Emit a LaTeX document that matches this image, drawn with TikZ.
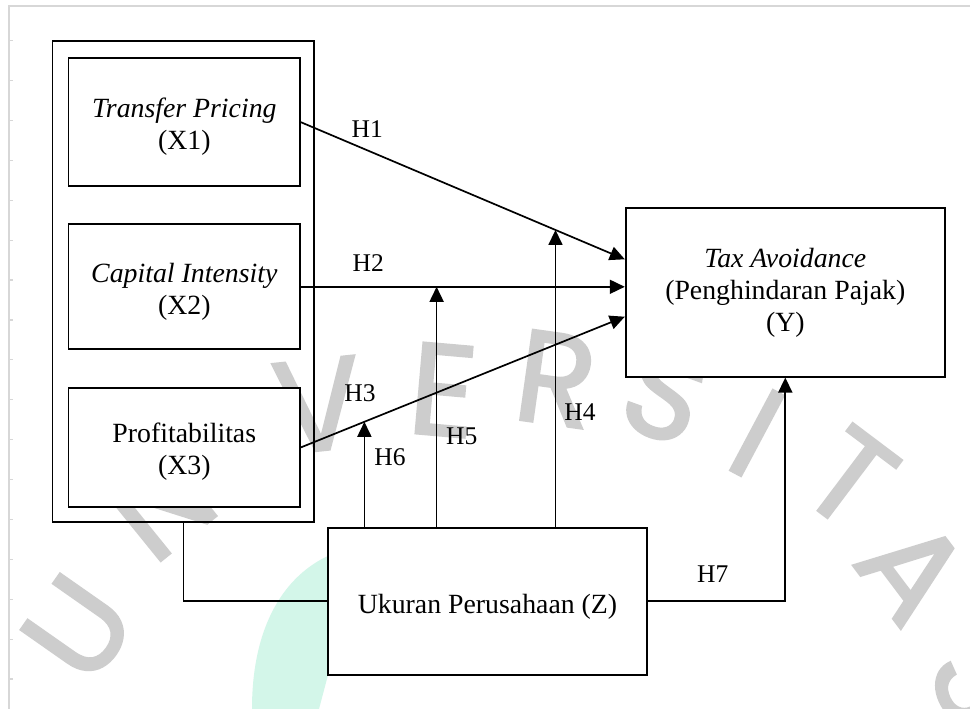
\documentclass[tikz,border=0pt]{standalone}
\usepackage{fontspec}
\setmainfont{Liberation Serif}
\newfontfamily\wmfont{Poppins}[FakeBold=2]
\usetikzlibrary{arrows.meta,calc}
\definecolor{wmgray}{RGB}{205,205,205}
\definecolor{mint}{RGB}{211,246,233}
\definecolor{framegray}{RGB}{215,215,215}
\newcommand\dgboxfont{\fontsize{27.8}{32}\selectfont}
\newcommand\dglblfont{\fontsize{25.5}{29}\selectfont}
\newcommand\dgwmfont{\wmfont\fontsize{130}{130}\selectfont}
\begin{document}
\begin{tikzpicture}[x=1pt,y=-1pt,
  box/.style={draw=black,line width=1.7pt,fill=white,align=center,inner sep=0pt,font=\dgboxfont},
  grp/.style={draw=black,line width=1.7pt,inner sep=0pt},
  conn/.style={line width=1.7pt},
  arr/.style={line width=1.7pt,-{Triangle[length=15pt,width=14pt]}},
  lbl/.style={inner sep=0pt,font=\dglblfont},
  wm/.style={inner sep=0pt,text=wmgray,font=\dgwmfont}]
\useasboundingbox (0,0) rectangle (970,709);
\fill[white] (0,0) rectangle (970,709);
% page frame
\draw[framegray,line width=2pt] (970,6.5) -- (9,6.5) -- (9,709);
\foreach \k in {0,...,16}{\draw[framegray,line width=1.2pt] (10,40.6+39.9*\k) -- (12.5,40.6+39.9*\k);}
% watermark
\fill[mint] (330,555) .. controls (285,575) and (252,625) .. (252,709) -- (319,709) -- (328,675) -- (340,675) -- (340,555) -- cycle;
\node[wm,rotate=55] (w1) at (78,628) {U};
\node[wm,rotate=39] (w2) at (160,503) {N};
\node[wm,rotate=6] (w4) at (318,405) {V};
\node[wm,rotate=-5] (w5) at (443,390) {E};
\node[wm,rotate=-8] (w6) at (556,379) {R};
\node[wm,rotate=-20] (w7) at (665,393) {S};
\node[wm,rotate=-28] (w8) at (757,433) {I};
\node[wm,rotate=-37] (w9) at (850,478) {T};
\node[wm,rotate=-53] (w10) at (913,570) {A};
\node[wm,rotate=-66] (w11) at (982,682) {S};
% boxes
\node[grp,minimum width=261.8pt,minimum height=481pt] (G) at (183.4,281.2) {};
\node[box,minimum width=231.5pt,minimum height=127.7pt] (X1) at (184.3,122.2) {\rule{0pt}{28.5pt}\textit{Transfer Pricing}\\(X1)};
\node[box,minimum width=231.5pt,minimum height=125pt] (X2) at (184.3,286.8) {\rule{0pt}{28.5pt}\textit{Capital Intensity}\\(X2)};
\node[box,minimum width=231.5pt,minimum height=119.3pt] (X3) at (184.3,447.4) {\rule{0pt}{28.5pt}Profitabilitas\\(X3)};
\node[box,minimum width=319.3pt,minimum height=168.4pt] (Y) at (785.3,292.5) {\textit{Tax Avoidance}\\(Penghindaran Pajak)\\(Y)};
\node[box,minimum width=319.6pt,minimum height=147.3pt] (Z) at (487.5,601.3) {\rule{0pt}{30pt}Ukuran Perusahaan (Z)};
% connector points
\coordinate (y1) at ($(Y.west)+(0,-33.2)$);
\coordinate (y3) at ($(Y.west)+(0,24.2)$);
\coordinate (p4) at ($(X1.east)!0.786!(y1)$);
\coordinate (p5) at ($(X2.east)!0.419!(X2.east -| Y.west)$);
\coordinate (p6) at ($(X3.east)!0.196!(y3)$);
% connectors
\draw[arr] (X1.east) -- (y1);
\draw[arr] (X2.east) -- (X2.east -| Y.west);
\draw[arr] (X3.east) -- (y3);
\draw[arr] (Z.north -| p4) -- (p4);
\draw[arr] (Z.north -| p5) -- (p5);
\draw[arr] (Z.north -| p6) -- (p6);
\draw[arr] (Z.east) -| (Y.south);
\draw[conn] (G.south) |- (Z.west);
% labels
\node[lbl] (h1) at (367.3,129.3) {H1};
\node[lbl] (h2) at (368.3,263.3) {H2};
\node[lbl] (h3) at (360,392.7) {H3};
\node[lbl] (h4) at (580,411.7) {H4};
\node[lbl] (h5) at (461.7,436) {H5};
\node[lbl] (h6) at (390,457.3) {H6};
\node[lbl] (h7) at (712.7,574) {H7};
\end{tikzpicture}
\end{document}
